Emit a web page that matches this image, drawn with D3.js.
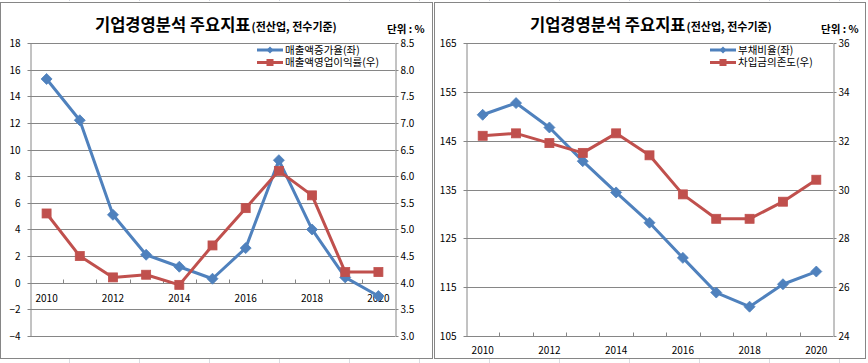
<!DOCTYPE html>
<html><head><meta charset="utf-8">
<script src="https://cdn.jsdelivr.net/npm/d3@7/dist/d3.min.js"></script>
<style>
html,body{margin:0;padding:0;background:#fff;}
svg{display:block;}
text{font-family:"Noto Sans CJK KR","Noto Sans",sans-serif;}
</style></head>
<body>
<svg id="chart" width="868" height="363"></svg>
<script>
// ---- data ----
const years = [2010,2011,2012,2013,2014,2015,2016,2017,2018,2019,2020];
const xTickLabels = [2010,2012,2014,2016,2018,2020];

const salesGrowth = [15.3,12.2,5.1,2.1,1.2,0.3,2.6,9.2,4.0,0.4,-1.0];     // 매출액증가율(좌)
const opMargin    = [5.3,4.5,4.1,4.15,3.96,4.7,5.4,6.1,5.64,4.2,4.2];      // 매출액영업이익률(우)
const debtRatio   = [150.3,152.7,147.7,140.8,134.4,128.2,121.0,113.9,111.0,115.6,118.2]; // 부채비율(좌)
const borrowDep   = [32.2,32.3,31.9,31.5,32.3,31.4,29.8,28.8,28.8,29.5,30.4];           // 차입금의존도(우)

const leftTicksA  = [-4,-2,0,2,4,6,8,10,12,14,16,18];
const rightTicksA = [3.0,3.5,4.0,4.5,5.0,5.5,6.0,6.5,7.0,7.5,8.0,8.5];
const leftTicksB  = [105,115,125,135,145,155,165];
const rightTicksB = [24,26,28,30,32,34,36];

const titleMain = "기업경영분석 주요지표";
const titleSub  = "(전산업, 전수기준)";
const unitText  = "단위 : %";
const legendA = ["매출액증가율(좌)","매출액영업이익률(우)"];
const legendB = ["부채비율(좌)","차입금의존도(우)"];

const BLUE = "#4F81BD", RED = "#C0504D", GRID = "#868686";

const svg = d3.select("#chart");

// faint spreadsheet cell lines outside the charts
const cellX = d3.range(69, 868, 70);
svg.selectAll("line.cell").data(cellX).enter().append("line")
  .attr("x1", d=>d+0.5).attr("x2", d=>d+0.5).attr("y1", 359).attr("y2", 363)
  .attr("stroke", "#d8dce3");
svg.selectAll("line.cellt").data(cellX).enter().append("line")
  .attr("x1", d=>d+0.5).attr("x2", d=>d+0.5).attr("y1", 0).attr("y2", 1)
  .attr("stroke", "#d8dce3");

function drawChart(cfg) {
  const g = svg.append("g");
  // frame
  g.append("rect").attr("x", cfg.frame[0]+0.5).attr("y", cfg.frame[1]+0.5)
    .attr("width", cfg.frame[2]).attr("height", cfg.frame[3])
    .attr("fill", "#fff").attr("stroke", GRID).attr("stroke-width", 1);

  const x = d3.scaleBand().domain(years).range([cfg.px0, cfg.px1]).padding(0);
  const yL = d3.scaleLinear().domain(cfg.leftDomain).range([cfg.py1, cfg.py0]);
  const yR = d3.scaleLinear().domain(cfg.rightDomain).range([cfg.py1, cfg.py0]);
  const cx = d => x(d) + x.bandwidth()/2;

  // gridlines
  g.selectAll("line.grid").data(cfg.leftTicks).enter().append("line")
    .attr("x1", cfg.px0).attr("x2", cfg.px1)
    .attr("y1", d=>Math.round(yL(d))+0.5).attr("y2", d=>Math.round(yL(d))+0.5)
    .attr("stroke", GRID).attr("stroke-width", 1);

  // left axis
  const la = g.append("g").attr("transform", `translate(${cfg.px0+0.5},0)`)
    .call(d3.axisLeft(yL).tickValues(cfg.leftTicks).tickSize(3).tickSizeOuter(0).tickPadding(cfg.leftPad).tickFormat(cfg.leftFmt));
  la.select(".domain").attr("stroke", GRID);
  la.selectAll(".tick line").attr("stroke", GRID);
  la.selectAll(".tick").attr("transform", d=>`translate(0,${Math.round(yL(d))+0.5})`);
  la.selectAll("text").attr("font-size", 10).attr("fill", "#000")
    .style("font-family", '"Noto Sans CJK KR",sans-serif');

  // right axis
  const ra = g.append("g").attr("transform", `translate(${cfg.px1+0.5},0)`)
    .call(d3.axisRight(yR).tickValues(cfg.rightTicks).tickSize(3).tickSizeOuter(0).tickPadding(2).tickFormat(cfg.rightFmt));
  ra.select(".domain").attr("stroke", GRID);
  ra.selectAll(".tick line").attr("stroke", GRID);
  ra.selectAll(".tick").attr("transform", d=>`translate(0,${Math.round(yR(d))+0.5})`);
  ra.selectAll("text").attr("font-size", 10).attr("fill", "#000")
    .style("font-family", '"Noto Sans CJK KR",sans-serif');

  // x axis line
  const xy = Math.round(yL(cfg.xAxisAt)) + 0.5;
  g.append("line").attr("x1", cfg.px0).attr("x2", cfg.px1).attr("y1", xy).attr("y2", xy)
    .attr("stroke", GRID);
  // category boundary ticks (inside, upward)
  g.selectAll("line.xt").data(years.slice(1)).enter().append("line")
    .attr("x1", d=>Math.round(x(d))+0.5).attr("x2", d=>Math.round(x(d))+0.5)
    .attr("y1", xy-4).attr("y2", xy).attr("stroke", GRID);
  g.selectAll("text.xl").data(xTickLabels).enter().append("text")
    .attr("x", d=>cx(d)).attr("y", xy + cfg.xLabelDy)
    .attr("text-anchor", "middle").attr("font-size", 10).attr("fill", "#000")
    .text(d=>d);

  // series
  const s1 = years.map((yr,i)=>({x:cx(yr), y:yL(cfg.s1[i])}));
  const s2 = years.map((yr,i)=>({x:cx(yr), y:yR(cfg.s2[i])}));
  const line = d3.line().x(d=>d.x).y(d=>d.y);

  g.append("path").attr("d", line(s1)).attr("fill","none").attr("stroke",BLUE).attr("stroke-width",3).attr("stroke-linejoin","round");
  g.selectAll("path.dm").data(s1).enter().append("path")
    .attr("d", d=>`M${d.x},${d.y-5.5}L${d.x+5.5},${d.y}L${d.x},${d.y+5.5}L${d.x-5.5},${d.y}Z`)
    .attr("fill", BLUE).attr("stroke", BLUE).attr("stroke-width", 0.8);

  g.append("path").attr("d", line(s2)).attr("fill","none").attr("stroke",RED).attr("stroke-width",3).attr("stroke-linejoin","round");
  g.selectAll("rect.sq").data(s2).enter().append("rect")
    .attr("x", d=>d.x-4.5).attr("y", d=>d.y-4.5).attr("width", 9).attr("height", 9)
    .attr("fill", RED).attr("stroke", RED).attr("stroke-width", 0.8);

  // legend
  const lg = g.append("g");
  [0,1].forEach(i=>{
    const ly = cfg.legendY + i*12.5;
    lg.append("line").attr("x1", cfg.legendX).attr("x2", cfg.legendX+26).attr("y1", ly).attr("y2", ly)
      .attr("stroke", i? RED: BLUE).attr("stroke-width", 3);
    const mx = cfg.legendX + 13;
    if (i===0) {
      lg.append("path").attr("d", `M${mx},${ly-3.5}L${mx+3.5},${ly}L${mx},${ly+3.5}L${mx-3.5},${ly}Z`).attr("fill", BLUE);
    } else {
      lg.append("rect").attr("x", mx-3.5).attr("y", ly-3.5).attr("width", 7).attr("height", 7).attr("fill", RED);
    }
    lg.append("text").attr("x", cfg.legendX+28).attr("y", ly+3.7).attr("font-size", 10.5).attr("fill", "#000")
      .text(cfg.legend[i]);
  });

  // title
  const t = g.append("text").attr("x", cfg.titleX).attr("y", 31).attr("fill", "#000");
  t.append("tspan").attr("font-size", 16.5).attr("font-weight", "bold").text(titleMain);
  t.append("tspan").attr("font-size", 11).attr("font-weight", "bold").attr("dx", 1).text(titleSub);
  g.append("text").attr("x", cfg.unitX).attr("y", 33).attr("font-size", 10.5).attr("font-weight", "bold")
    .attr("fill", "#000").text(unitText);
}

drawChart({
  frame:[0,2,432,356], px0:30, px1:395, py0:43, py1:336,
  leftDomain:[-4,18], rightDomain:[3.0,8.5],
  leftTicks:leftTicksA, rightTicks:rightTicksA,
  leftFmt:d3.format("d"), rightFmt:d3.format(".1f"), leftPad:7,
  xAxisAt:0, xLabelDy:18,
  s1:salesGrowth, s2:opMargin,
  legend:legendA, legendX:257, legendY:50,
  titleX:95, unitX:387
});
drawChart({
  frame:[434,2,431,356], px0:466, px1:833, py0:43, py1:336,
  leftDomain:[105,165], rightDomain:[24,36],
  leftTicks:leftTicksB, rightTicks:rightTicksB,
  leftFmt:d3.format("d"), rightFmt:d3.format("d"), leftPad:7,
  xAxisAt:105, xLabelDy:17,
  s1:debtRatio, s2:borrowDep,
  legend:legendB, legendX:710, legendY:50,
  titleX:530, unitX:821
});
</script>
</body></html>
